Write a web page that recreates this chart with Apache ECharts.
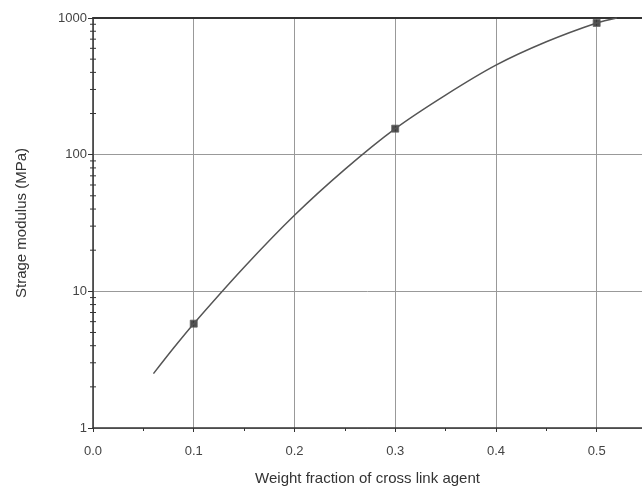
<!DOCTYPE html>
<html><head><meta charset="utf-8">
<script src="https://cdn.jsdelivr.net/npm/echarts@6/dist/echarts.min.js"></script>
<style>html,body{margin:0;padding:0;background:#fff}#c{width:642px;height:491px}</style>
</head><body><div id="c"></div>
<script>
// fitted curve
const curveX = [0.06, 0.08, 0.10, 0.15, 0.20, 0.25, 0.30, 0.35, 0.40, 0.45, 0.50, 0.52];
const curveY = [2.5, 3.85, 5.8, 15, 36, 78, 155, 273, 452, 670, 920, 1000];
// measured points
const pointX = [0.1, 0.3, 0.5];
const pointY = [5.8, 155, 920];
// y minor ticks (log)
const yMinor = [2,3,4,5,6,7,8,9,20,30,40,50,60,70,80,90,200,300,400,500,600,700,800,900];
const xTickLabels = ['0.0','0.1','0.2','0.3','0.4','0.5'];
const yTickLabels = ['1','10','100','1000'];
const xTitle = 'Weight fraction of cross link agent';
const yTitle = 'Strage modulus (MPa)';

const font = '"Liberation Sans", Arial, sans-serif';
const chart = echarts.init(document.getElementById('c'));
chart.setOption({
  animation: false,
  grid: {left: 93, right: 0, top: 18, bottom: 63},
  xAxis: [{
    type: 'value', min: 0, max: 0.545, interval: 0.1,
    name: xTitle, nameLocation: 'middle', nameGap: 43,
    nameTextStyle: {fontFamily: font, fontSize: 15, color: '#333'},
    axisLine: {lineStyle: {color: '#333', width: 1.5}},
    axisTick: {length: 4, lineStyle: {color: '#333'}},
    minorTick: {show: true, splitNumber: 2, length: 3, lineStyle: {color: '#333'}},
    axisLabel: {fontFamily: font, fontSize: 13, color: '#444', margin: 17, showMaxLabel: false,
      formatter: v => xTickLabels[Math.round(v * 10)] || ''},
    splitLine: {show: true, lineStyle: {color: '#999', width: 1}}
  }, {
    type: 'value', position: 'top', min: 0, max: 0.545,
    axisLine: {show: true, onZero: false, lineStyle: {color: '#333', width: 2}},
    axisTick: {show: false}, axisLabel: {show: false}, splitLine: {show: false}
  }],
  yAxis: {
    type: 'log', logBase: 10, min: 1, max: 1000,
    name: yTitle, nameLocation: 'middle', nameGap: 64,
    nameTextStyle: {fontFamily: font, fontSize: 15, color: '#333'},
    axisLine: {show: true, lineStyle: {color: '#333', width: 1.5}},
    axisTick: {length: 5, lineStyle: {color: '#333'}},
    axisLabel: {fontFamily: font, fontSize: 13, color: '#444', margin: 6,
      formatter: v => { const i = Math.round(Math.log10(v)); return yTickLabels[i] || ''; }},
    splitLine: {show: true, lineStyle: {color: '#999', width: 1}}
  },
  series: [{
    type: 'custom',
    coordinateSystem: 'cartesian2d',
    clip: false, silent: true,
    data: yMinor.map(v => [0, v]),
    renderItem: (params, api) => {
      const p = api.coord([0, api.value(1)]);
      return {type: 'line', shape: {x1: p[0] - 3, y1: p[1], x2: p[0] + 3, y2: p[1]},
        style: {stroke: '#333', lineWidth: 1}};
    }
  }, {
    type: 'line', smooth: 0.3, showSymbol: false, clip: true,
    data: curveX.map((x, i) => [x, curveY[i]]),
    lineStyle: {color: '#555', width: 1.5}
  }, {
    type: 'scatter', symbol: 'rect', symbolSize: 7,
    data: pointX.map((x, i) => [x, pointY[i]]),
    itemStyle: {color: '#222', borderColor: '#666', borderWidth: 1}
  }]
});
</script></body></html>
